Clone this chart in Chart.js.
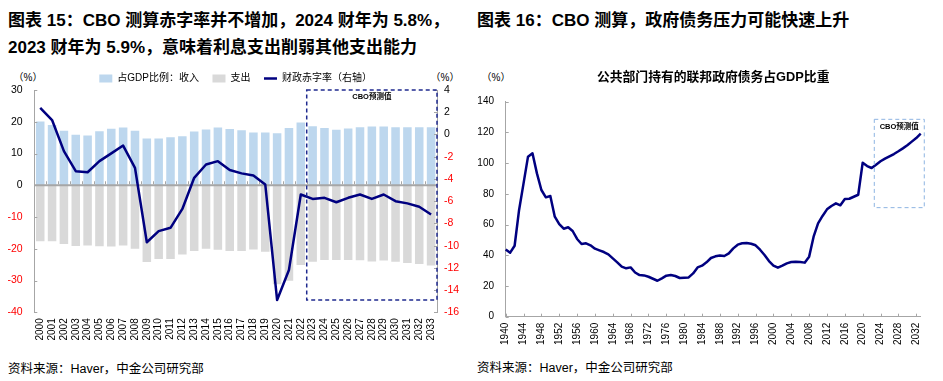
<!DOCTYPE html>
<html><head><meta charset="utf-8">
<script src="https://cdn.jsdelivr.net/npm/chart.js@4.4.1/dist/chart.umd.min.js"></script>
<style>
html,body{margin:0;padding:0;background:#fff;width:943px;height:381px;overflow:hidden;position:relative;font-family:"Liberation Sans","Noto Sans CJK SC",sans-serif;}
.t{position:absolute;white-space:nowrap;color:#000;}
.title{font-weight:bold;font-size:17px;line-height:27px;}
.src{font-size:12.5px;line-height:15px;}
.pct{font-size:10px;line-height:12px;width:40px;text-align:center;}
canvas{position:absolute;}
</style></head>
<body>
<div class="t title" style="left:8px;top:6.5px">图表 15：CBO 测算赤字率并不增加，2024 财年为 5.8%，<br>2023 财年为 5.9%，意味着利息支出削弱其他支出能力</div>
<div class="t title" style="left:477px;top:6.5px">图表 16：CBO 测算，政府债务压力可能快速上升</div>
<div class="t pct" style="left:8px;top:72px">（%）</div>
<div class="t pct" style="left:425px;top:72px">（%）</div>
<div class="t pct" style="left:476px;top:72px">（%）</div>
<div class="t src" style="left:8px;top:361.5px">资料来源：Haver，中金公司研究部</div>
<div class="t src" style="left:477px;top:360.5px">资料来源：Haver，中金公司研究部</div>
<canvas id="c1" width="470" height="290" style="left:0;top:60px"></canvas>
<canvas id="c2" width="471" height="290" style="left:472px;top:60px"></canvas>
<script>
// ---------- Chart 15 data ----------
const years1 = ['2000','2001','2002','2003','2004','2005','2006','2007','2008','2009',
                '2010','2011','2012','2013','2014','2015','2016','2017','2018','2019',
                '2020','2021','2022','2023','2024','2025','2026','2027','2028','2029',
                '2030','2031','2032','2033'];
const revenueGDP = [20.1,19.0,17.2,15.9,15.7,17.0,17.8,18.2,17.2,14.7,
                    14.7,15.1,15.4,16.9,17.6,18.2,17.7,17.3,16.6,16.6,
                    16.4,18.0,19.8,18.6,18.0,17.5,17.9,18.3,18.5,18.5,
                    18.3,18.3,18.3,18.3];
const spendingGDP = [-17.6,-17.6,-18.5,-19.1,-19.0,-19.2,-19.3,-19.0,-20.0,-24.2,
                     -23.2,-23.2,-21.8,-20.7,-20.0,-20.3,-20.7,-20.7,-20.2,-20.9,
                     -31.2,-30.1,-25.1,-24.1,-23.5,-23.5,-23.5,-23.6,-24.0,-23.7,
                     -24.1,-24.5,-24.8,-25.3];
const deficitGDP = [2.4,1.3,-1.5,-3.3,-3.4,-2.4,-1.7,-1.0,-3.0,-9.7,
                    -8.7,-8.4,-6.7,-3.9,-2.7,-2.4,-3.2,-3.5,-3.7,-4.5,
                    -14.9,-12.2,-5.4,-5.8,-5.7,-6.1,-5.7,-5.4,-5.8,-5.4,
                    -6.0,-6.2,-6.5,-7.2];
const forecastFrom1 = '2023';
const forecastBoxBottom1 = -36.1;   // left-axis units

// ---------- Chart 16 data ----------
const years2 = [];
for (let yr = 1940; yr <= 2033; yr++) years2.push(yr);
const debtHeldByPublic = [
  43.8,41.7,46.2,69.5,86.8,104.2,106.4,93.3,82.5,77.7,
  78.6,65.1,60.3,57.3,58.2,55.8,50.6,47.3,47.8,46.5,
  44.3,43.2,42.1,40.6,38.0,35.4,32.6,31.5,32.1,28.8,
  27.1,26.9,26.0,24.7,23.4,25.0,26.7,27.1,26.5,25.2,
  25.4,25.6,28.2,32.1,33.2,35.4,38.2,39.3,39.9,39.5,
  41.2,44.5,46.9,47.8,48.0,47.5,46.5,43.6,40.2,36.2,
  33.3,31.9,33.2,34.7,35.6,35.8,35.6,35.2,39.1,52.1,
  60.8,65.6,69.9,72.1,73.8,72.5,76.6,76.8,78.1,79.4,
  100.3,98.1,96.8,99.0,101.2,102.9,104.4,105.9,107.7,109.6,
  111.6,114.0,116.3,119.2];
const forecastBox2 = {x0: 2022.6, x1: 2033.8, y0: 71, y1: 128.5};

Chart.defaults.font.family = '"Liberation Sans","Noto Sans CJK SC",sans-serif';
Chart.defaults.color = '#000';

const AXIS_GRAY = '#A6A6A6';
const NAVY = '#000080';

function drawForecastLabel(ctx, x, y) {
  ctx.save();
  ctx.font = 'bold 7.5px "Liberation Sans","Noto Sans CJK SC",sans-serif';
  ctx.fillStyle = '#000';
  ctx.textAlign = 'center';
  ctx.textBaseline = 'middle';
  ctx.fillText('CBO预测值', x, y);
  ctx.restore();
}

const deco1 = {
  id: 'deco1',
  beforeDatasetDraw(chart, args) {
    if (args.index !== 2) return;
    const {ctx, chartArea: a, scales: {x, y}} = chart;
    const y0 = y.getPixelForValue(0);
    ctx.save();
    ctx.strokeStyle = AXIS_GRAY;
    ctx.lineWidth = 2;
    ctx.beginPath(); ctx.moveTo(a.left, y0); ctx.lineTo(a.right, y0); ctx.stroke();
    ctx.lineWidth = 1;
    ctx.beginPath();
    for (let i = 1; i < years1.length; i++) {
      const px = Math.round(x.getPixelForValue(i - 0.5)) + 0.5;
      ctx.moveTo(px, y0 - 1); ctx.lineTo(px, y0 - 4);
    }
    ctx.stroke();
    ctx.restore();
  },
  afterDatasetsDraw(chart) {
    const {ctx, chartArea: a, scales: {x, y, y1}} = chart;
    ctx.save();
    ctx.strokeStyle = AXIS_GRAY; ctx.lineWidth = 1;
    ctx.beginPath();
    y.ticks.forEach(t => { const py = Math.round(y.getPixelForValue(t.value)) + 0.5; ctx.moveTo(a.left, py); ctx.lineTo(a.left + 3, py); });
    y1.ticks.forEach(t => { const py = Math.round(y1.getPixelForValue(t.value)) + 0.5; ctx.moveTo(a.right, py); ctx.lineTo(a.right - 3, py); });
    ctx.stroke();
    // forecast box
    const bx0 = x.getPixelForValue(years1.indexOf(forecastFrom1) - 0.5);
    const bx1 = a.right;
    const by0 = y.getPixelForValue(y.max);
    const by1 = y.getPixelForValue(forecastBoxBottom1);
    ctx.strokeStyle = '#1F2A8F'; ctx.lineWidth = 1.5;
    ctx.setLineDash([4, 3]);
    ctx.strokeRect(bx0, by0, bx1 - bx0, by1 - by0);
    ctx.restore();
    drawForecastLabel(ctx, (bx0 + bx1) / 2, by0 + 6.5);
  }
};

new Chart(document.getElementById('c1'), {
  type: 'bar',
  data: {
    labels: years1,
    datasets: [
      {label: '占GDP比例：收入', data: revenueGDP, backgroundColor: '#BDD7EE', borderWidth: 0,
       grouped: false, barPercentage: 0.72, categoryPercentage: 1, pointStyle: 'rect', yAxisID: 'y', order: 2},
      {label: '支出', data: spendingGDP, backgroundColor: '#D9D9D9', borderWidth: 0,
       grouped: false, barPercentage: 0.72, categoryPercentage: 1, pointStyle: 'rect', yAxisID: 'y', order: 2},
      {type: 'line', label: '财政赤字率（右轴）', data: deficitGDP, borderColor: NAVY, backgroundColor: NAVY,
       borderWidth: 2.5, pointRadius: 0, pointBorderWidth: 2.5, pointStyle: 'line', tension: 0,
       borderJoinStyle: 'round', yAxisID: 'y1', order: 0}
    ]
  },
  options: {
    responsive: false, animation: false, devicePixelRatio: 1, events: [],
    layout: {padding: {top: 0, left: 0, right: 0, bottom: 0}},
    plugins: {
      legend: {
        position: 'top', fullSize: false, maxHeight: 30,
        labels: {
          usePointStyle: true, pointStyleWidth: 13, boxWidth: 13, boxHeight: 8, padding: 13.5,
          font: {size: 10}, color: '#000',
          sort: (a, b) => a.datasetIndex - b.datasetIndex
        }
      },
      tooltip: {enabled: false},
      title: {display: false}
    },
    scales: {
      x: {
        type: 'category', offset: true,
        grid: {display: false, drawTicks: false}, border: {display: false},
        ticks: {autoSkip: false, maxRotation: 90, minRotation: 90, font: {size: 10}, color: '#000', padding: 6},
        afterFit: s => { s.height = 37.7; }
      },
      y: {
        position: 'left', min: -40, max: 30,
        grid: {display: false, drawTicks: false}, border: {display: true, color: AXIS_GRAY, width: 1},
        ticks: {stepSize: 10, font: {size: 10.5}, padding: 11.6,
                color: c => (c.tick && c.tick.value < 0) ? '#FF0000' : '#000000'},
        afterFit: s => { s.width = 34.3; }
      },
      y1: {
        position: 'right', min: -16, max: 4,
        grid: {display: false, drawTicks: false}, border: {display: true, color: AXIS_GRAY, width: 1},
        ticks: {stepSize: 2, font: {size: 10.5}, padding: 7,
                color: c => (c.tick && c.tick.value < 0) ? '#FF0000' : '#000000'},
        afterFit: s => { s.width = 33; }
      }
    }
  },
  plugins: [deco1]
});

const deco2 = {
  id: 'deco2',
  afterDatasetsDraw(chart) {
    const {ctx, chartArea: a, scales: {x, y}} = chart;
    ctx.save();
    ctx.strokeStyle = AXIS_GRAY; ctx.lineWidth = 1;
    ctx.beginPath();
    y.ticks.forEach(t => { const py = Math.round(y.getPixelForValue(t.value)) + 0.5; ctx.moveTo(a.left, py); ctx.lineTo(a.left + 3, py); });
    years2.forEach((yr, i) => {
      if ((yr - 1940) % 4 !== 0) return;
      const px = Math.round(x.getPixelForValue(i)) + 0.5;
      ctx.moveTo(px, a.bottom); ctx.lineTo(px, a.bottom - 3);
    });
    ctx.stroke();
    const bx0 = x.getPixelForValue(forecastBox2.x0 - 1940);
    const bx1 = x.getPixelForValue(forecastBox2.x1 - 1940);
    const by0 = y.getPixelForValue(forecastBox2.y1);
    const by1 = y.getPixelForValue(forecastBox2.y0);
    ctx.strokeStyle = '#8DB4E2'; ctx.lineWidth = 1;
    ctx.setLineDash([4, 3]);
    ctx.strokeRect(bx0, by0, bx1 - bx0, by1 - by0);
    ctx.restore();
    drawForecastLabel(ctx, (bx0 + bx1) / 2, by0 + 7.4);
  }
};

new Chart(document.getElementById('c2'), {
  type: 'line',
  data: {
    labels: years2,
    datasets: [
      {label: '公共部门持有的联邦政府债务占GDP比重', data: debtHeldByPublic, borderColor: NAVY, backgroundColor: NAVY,
       borderWidth: 2.5, pointRadius: 0, tension: 0, borderJoinStyle: 'round'}
    ]
  },
  options: {
    responsive: false, animation: false, devicePixelRatio: 1, events: [],
    layout: {padding: {top: 0, left: 0, right: 22.3, bottom: 0}},
    plugins: {
      legend: {display: false},
      tooltip: {enabled: false},
      title: {display: true, text: '公共部门持有的联邦政府债务占GDP比重', fullSize: false,
              font: {size: 12.8, weight: 'bold', lineHeight: 1.2}, color: '#000',
              padding: {top: 10.2, bottom: 16.1}}
    },
    scales: {
      x: {
        type: 'category', offset: false,
        grid: {display: false, drawTicks: false}, border: {display: true, color: AXIS_GRAY, width: 1},
        ticks: {autoSkip: false, maxRotation: 90, minRotation: 90, font: {size: 10}, color: '#000', padding: 6,
                callback: function(v, i) { return ((years2[i] - 1940) % 4 === 0) ? String(years2[i]) : null; }},
        afterFit: s => { s.height = 33.3; }
      },
      y: {
        min: 0, max: 140,
        grid: {display: false, drawTicks: false}, border: {display: true, color: AXIS_GRAY, width: 1},
        ticks: {stepSize: 20, font: {size: 10}, color: '#000', padding: 11.7},
        afterFit: s => { s.width = 33.7; }
      }
    }
  },
  plugins: [deco2]
});
</script>
</body></html>
